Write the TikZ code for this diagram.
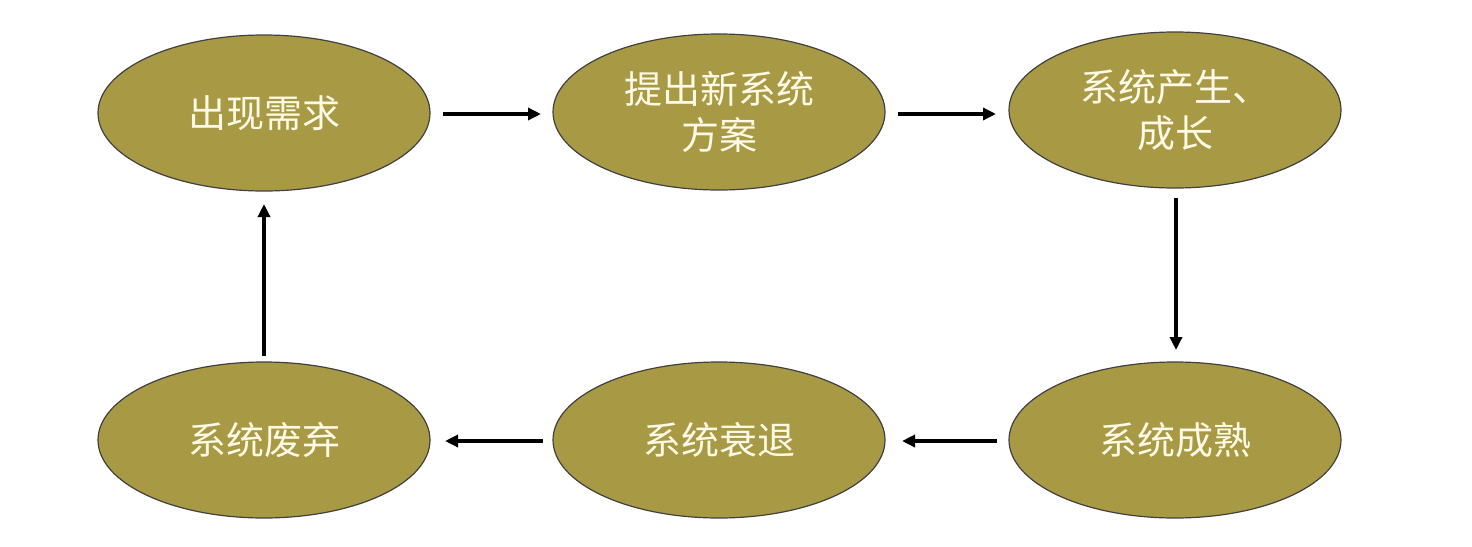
\documentclass[tikz,border=0pt]{standalone}
\usepackage{fontspec}
\newfontfamily\cjk{Noto Sans CJK SC}
\usetikzlibrary{shapes.geometric,arrows.meta}
\definecolor{olive}{HTML}{A89A45}
\definecolor{cream}{HTML}{FFF9E6}
\begin{document}
\begin{tikzpicture}[x=1pt,y=-1pt,
  stage/.style={ellipse,draw=black!75,line width=1.2pt,fill=olive,
    minimum width=332pt,minimum height=156pt,inner sep=0pt,
    text=cream,font=\cjk\fontsize{38}{46}\selectfont,align=center},
  flow/.style={-{Triangle[length=13pt,width=12pt]},line width=3.4pt,black}]
\useasboundingbox (0,0) rectangle (1472,546);
\node[stage] (n1) at (264,113) {出现需求};
\node[stage] (n2) at (719,112) {提出新系统\\方案};
\node[stage] (n3) at (1175,110) {系统产生、\\成长};
\node[stage] (n6) at (1175,440) {系统成熟};
\node[stage] (n5) at (719,440) {系统衰退};
\node[stage] (n4) at (264,440) {系统废弃};
\coordinate (a1s) at (443,114); \coordinate (a1e) at (541,114);
\coordinate (a2s) at (898,114); \coordinate (a2e) at (996,114);
\coordinate (a3s) at (1176,198); \coordinate (a3e) at (1176,350);
\coordinate (a4s) at (997,441); \coordinate (a4e) at (902,441);
\coordinate (a5s) at (543,441); \coordinate (a5e) at (445,441);
\coordinate (a6s) at (264,356); \coordinate (a6e) at (264,204);
\draw[flow] (a1s) -- (a1e);
\draw[flow] (a2s) -- (a2e);
\draw[flow] (a3s) -- (a3e);
\draw[flow] (a4s) -- (a4e);
\draw[flow] (a5s) -- (a5e);
\draw[flow] (a6s) -- (a6e);
\end{tikzpicture}
\end{document}
